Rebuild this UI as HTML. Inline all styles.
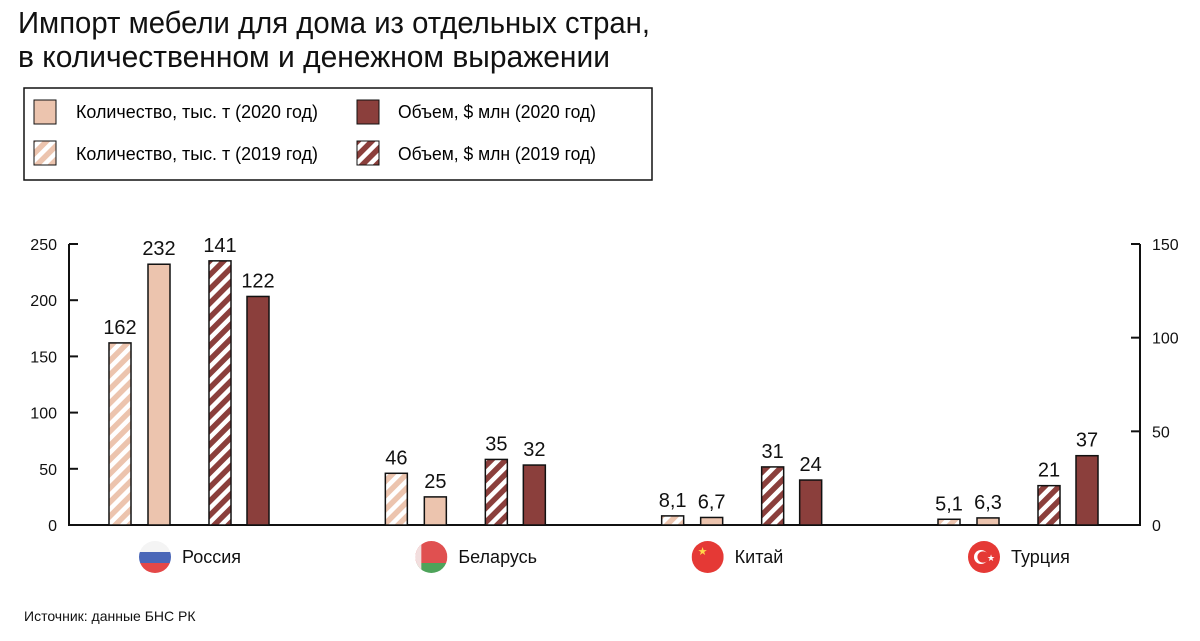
<!DOCTYPE html>
<html><head><meta charset="utf-8"><style>
body{margin:0;background:#fff;}
svg{display:block;font-family:"Liberation Sans",sans-serif;}
</style></head><body>
<svg id="chart" width="1200" height="641" viewBox="0 0 1200 641">
<defs>
<pattern id="hl" patternUnits="userSpaceOnUse" width="10" height="10" patternTransform="rotate(45)"><rect width="10" height="10" fill="#fff"/><rect width="5.5" height="10" fill="#ecc4ae"/></pattern>
<pattern id="hd" patternUnits="userSpaceOnUse" width="10" height="10" patternTransform="rotate(45)"><rect width="10" height="10" fill="#fff"/><rect width="5.5" height="10" fill="#8b3f3c"/></pattern>
<clipPath id="fc"><circle cx="0" cy="0" r="16"/></clipPath>
</defs>
<text x="18" y="33" font-size="31" textLength="632" lengthAdjust="spacingAndGlyphs" fill="#111">Импорт мебели для дома из отдельных стран,</text>
<text x="18" y="67" font-size="31" textLength="592" lengthAdjust="spacingAndGlyphs" fill="#111">в количественном и денежном выражении</text>
<g>
<rect x="24" y="88" width="628" height="92" fill="#fff" stroke="#111" stroke-width="1.5"/>
<g><rect x="34" y="100" width="22" height="24" fill="#ecc4ae" stroke="#111"/><text x="76" y="118" font-size="18" textLength="242" lengthAdjust="spacingAndGlyphs">Количество, тыс. т (2020 год)</text></g>
<g><rect x="34" y="141" width="22" height="24" fill="url(#hl)" stroke="#111"/><text x="76" y="160" font-size="18" textLength="242" lengthAdjust="spacingAndGlyphs">Количество, тыс. т (2019 год)</text></g>
<g><rect x="357" y="100" width="22" height="24" fill="#8b3f3c" stroke="#111"/><text x="398" y="118" font-size="18" textLength="198" lengthAdjust="spacingAndGlyphs">Объем, $ млн (2020 год)</text></g>
<g><rect x="357" y="141" width="22" height="24" fill="url(#hd)" stroke="#111"/><text x="398" y="160" font-size="18" textLength="198" lengthAdjust="spacingAndGlyphs">Объем, $ млн (2019 год)</text></g>
</g>
<g id="plot"></g>
<text x="24" y="621" font-size="14" fill="#111">Источник: данные БНС РК</text>
</svg>
<script>
const categories = ["Россия","Беларусь","Китай","Турция"];
const qty2019 = [162, 46, 8.1, 5.1];
const qty2020 = [232, 25, 6.7, 6.3];
const vol2019 = [141, 35, 31, 21];
const vol2020 = [122, 32, 24, 37];
const qty2019Labels = ["162","46","8,1","5,1"];
const qty2020Labels = ["232","25","6,7","6,3"];
const vol2019Labels = ["141","35","31","21"];
const vol2020Labels = ["122","32","24","37"];
const leftTicks = [0,50,100,150,200,250];
const rightTicks = [0,50,100,150];

const NS="http://www.w3.org/2000/svg";
const plot=document.getElementById('plot');
const y0=525, yTop=244;
const yL=v=>y0-(v/250)*(y0-yTop);
const yR=v=>y0-(v/150)*(y0-yTop);
const xG=i=>109+i*(938-109)/(categories.length-1);
const BW=22;
function mk(tag,attrs,parent){const e=document.createElementNS(NS,tag);for(const k in attrs)e.setAttribute(k,attrs[k]);(parent||plot).appendChild(e);return e;}

// axes
const ax=mk('g',{});


mk('line',{x1:69,y1:yTop,x2:69,y2:y0,stroke:'#111','stroke-width':2},ax);
mk('line',{x1:1140,y1:yTop,x2:1140,y2:y0,stroke:'#111','stroke-width':2},ax);
mk('line',{x1:68,y1:y0,x2:1141,y2:y0,stroke:'#111','stroke-width':2},ax);
leftTicks.forEach(t=>{
  mk('line',{x1:69,y1:yL(t),x2:78,y2:yL(t),stroke:'#111','stroke-width':2},ax);
  const tx=mk('text',{x:57,y:yL(t)+6,'font-size':16,'text-anchor':'end',fill:'#111'},ax);
  tx.textContent=t;
  
  
});
rightTicks.forEach(t=>{
  mk('line',{x1:1131,y1:yR(t),x2:1140,y2:yR(t),stroke:'#111','stroke-width':2},ax);
  const tx=mk('text',{x:1152,y:yR(t)+6,'font-size':16,fill:'#111'},ax);
  tx.textContent=t;
  
  
});

const series=[
 {vals:qty2019,labels:qty2019Labels,fill:'url(#hl)',sc:yL,off:0,name:'bar-qty-2019'},
 {vals:qty2020,labels:qty2020Labels,fill:'#ecc4ae',sc:yL,off:39,name:'bar-qty-2020'},
 {vals:vol2019,labels:vol2019Labels,fill:'url(#hd)',sc:yR,off:100,name:'bar-vol-2019'},
 {vals:vol2020,labels:vol2020Labels,fill:'#8b3f3c',sc:yR,off:138,name:'bar-vol-2020'}];
categories.forEach((c,i)=>{
  series.forEach(s=>{
    const x=xG(i)+s.off, y=s.sc(s.vals[i]);
    const r=mk('rect',{x:x,y:y,width:BW,height:y0-y,fill:s.fill,stroke:'#111','stroke-width':1.5});
    
    
    const t=mk('text',{x:x+BW/2,y:y-9,'font-size':20,'text-anchor':'middle',fill:'#111'});
    t.textContent=s.labels[i];
    
    
  });
  // flag + category
  const cx=xG(i)+46, cy=557;
  const g=mk('g',{transform:`translate(${cx},${cy})`});
  
  
  const fg=mk('g',{'clip-path':'url(#fc)'},g);
  if(i===0){mk('rect',{x:-16,y:-16,width:32,height:11,fill:'#f4f4f4'},fg);mk('rect',{x:-16,y:-5,width:32,height:11,fill:'#4a67b8'},fg);mk('rect',{x:-16,y:6,width:32,height:11,fill:'#e44848'},fg);}
  else if(i===1){mk('rect',{x:-16,y:-16,width:32,height:22,fill:'#e05050'},fg);mk('rect',{x:-16,y:6,width:32,height:11,fill:'#4ea35a'},fg);mk('rect',{x:-16,y:-16,width:6,height:32,fill:'#f2dede'},fg);}
  else if(i===2){mk('rect',{x:-16,y:-16,width:32,height:32,fill:'#e53935'},fg);const st=mk('text',{x:-10,y:-2,'font-size':11,fill:'#ffd84a'},fg);st.textContent='★';}
  else {mk('rect',{x:-16,y:-16,width:32,height:32,fill:'#e53935'},fg);mk('circle',{cx:-3,cy:0,r:7,fill:'#fff'},fg);mk('circle',{cx:-1,cy:0,r:5.6,fill:'#e53935'},fg);const st=mk('text',{x:3,y:4,'font-size':9,fill:'#fff'},fg);st.textContent='★';}
  const lt=mk('text',{x:cx+27,y:cy+6,'font-size':18,fill:'#111'});
  lt.textContent=c;
  
  
});
</script>
</body></html>
